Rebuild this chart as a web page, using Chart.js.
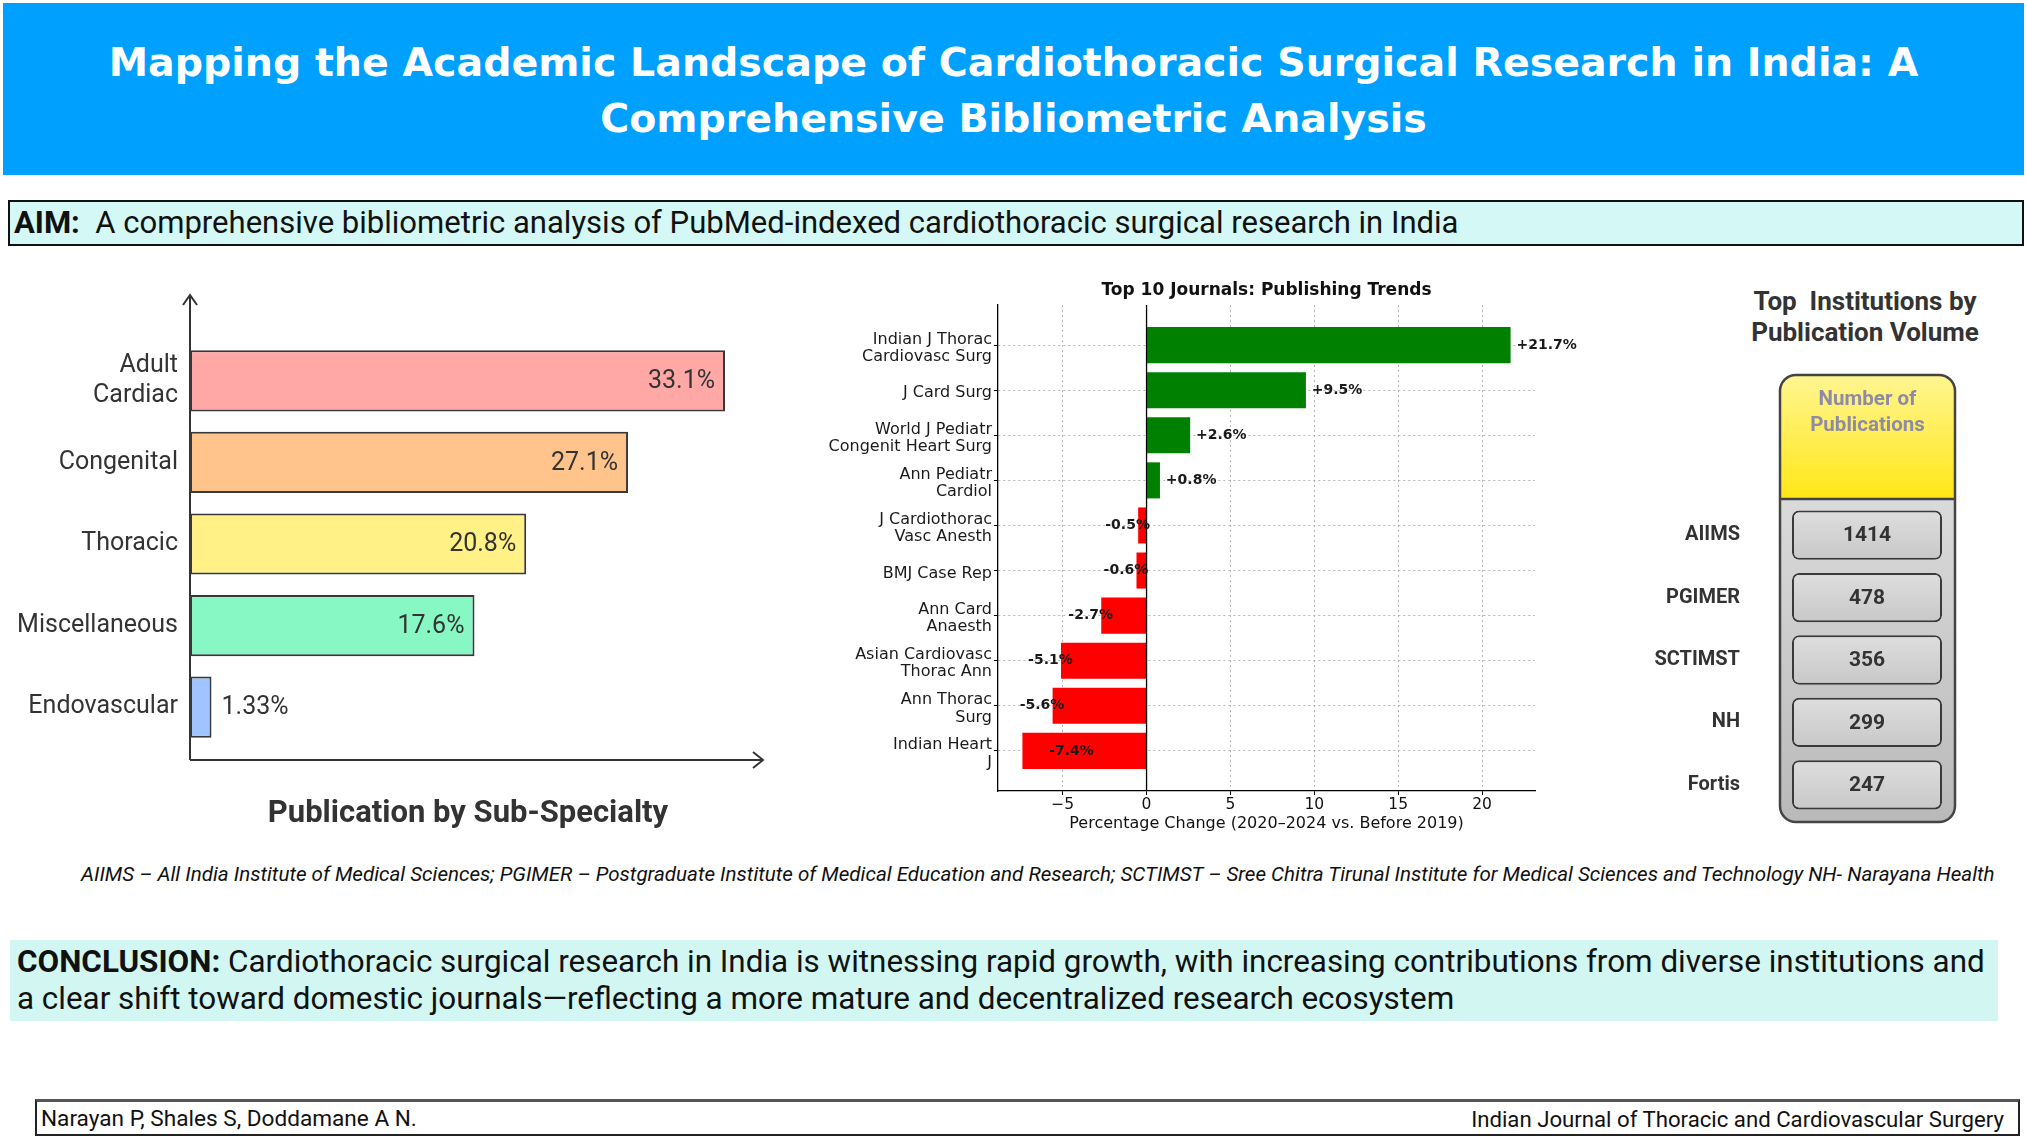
<!DOCTYPE html>
<html>
<head>
<meta charset="utf-8">
<title>Cardiothoracic Surgical Research in India</title>
<script src="https://cdn.jsdelivr.net/npm/chart.js@4.4.1/dist/chart.umd.min.js"></script>
<style>
  * { box-sizing: border-box; }
  html, body { margin: 0; padding: 0; background: #fff; }
  #page { position: relative; width: 2027px; height: 1136px; overflow: hidden; font-family: Roboto, sans-serif; color: #111; }
  .abs { position: absolute; }
  .fit { white-space: nowrap; display: inline-block; }
  #header { left: 3px; top: 3px; width: 2021px; height: 172px; background: #00a1fe; }
  #header .line { position: absolute; left: 0; width: 100%; text-align: center; color: #fff;
    font-family: "DejaVu Sans", sans-serif; font-weight: bold; font-size: 38px; line-height: 56px; }
  #aim { left: 8px; top: 200px; width: 2016px; height: 46px; background: #d3f8f5; border: 2px solid #111;
    padding-left: 4px; font-size: 30px; line-height: 42px; }
  #foot-note { left: 81px; top: 860px; font-size: 19px; font-style: italic; line-height: 28px; color: #111; }
  #conclusion { left: 10px; top: 940px; width: 1988px; height: 81px; background: #d2f7f3; padding: 3px 0 0 7px;
    font-size: 30px; line-height: 37px; }
  #footer { left: 35px; top: 1099px; width: 1985px; height: 37px; border: 2px solid #222; border-top: 3px solid #555; background: #fff; }
  #footer span { position: absolute; top: 4px; font-size: 21px; line-height: 26px; }
  #sub-title { left: 218px; top: 793px; width: 500px; text-align: center; font-weight: bold; font-size: 31px; color: #333; }
  #inst-title { left: 1680px; top: 286px; width: 370px; text-align: center; font-weight: bold; font-size: 26px; line-height: 31px; color: #333; }
  canvas { position: absolute; }
</style>
</head>
<body>
<div id="page">
  <div id="header" class="abs">
    <div class="line" style="top:31px"><span id="t1" class="fit">Mapping the Academic Landscape of Cardiothoracic Surgical Research in India: A</span></div>
    <div class="line" style="top:87px"><span id="t2" class="fit">Comprehensive Bibliometric Analysis</span></div>
  </div>

  <div id="aim" class="abs"><span id="aim-text" class="fit"><b>AIM:</b>&nbsp; A comprehensive bibliometric analysis of PubMed-indexed cardiothoracic surgical research in India</span></div>

  <canvas id="subChart" width="800" height="580" style="left:0;top:270px"></canvas>
  <div id="sub-title" class="abs">Publication by Sub-Specialty</div>

  <canvas id="journalChart" width="790" height="570" style="left:800px;top:270px"></canvas>

  <div id="inst-title" class="abs">Top&nbsp; Institutions by<br>Publication Volume</div>
  <canvas id="instChart" width="427" height="570" style="left:1600px;top:270px"></canvas>

  <div id="foot-note" class="abs"><span id="note-text" class="fit">AIIMS – All India Institute of Medical Sciences; PGIMER – Postgraduate Institute of Medical Education and Research; SCTIMST – Sree Chitra Tirunal Institute for Medical Sciences and Technology NH- Narayana Health</span></div>

  <div id="conclusion" class="abs">
    <span id="c1" class="fit"><b>CONCLUSION:</b> Cardiothoracic surgical research in India is witnessing rapid growth, with increasing contributions from diverse institutions and</span><br>
    <span id="c2" class="fit">a clear shift toward domestic journals—reflecting a more mature and decentralized research ecosystem</span>
  </div>

  <div id="footer" class="abs">
    <span id="auth" class="fit" style="left:4px">Narayan P, Shales S, Doddamane A N.</span>
    <span id="jour" class="fit" style="right:14px">Indian Journal of Thoracic and Cardiovascular Surgery</span>
  </div>
</div>

<script>
// ---- data ----
var subSpecialties = [["Adult", "Cardiac"], "Congenital", "Thoracic", "Miscellaneous", "Endovascular"];
var subShares = [33.1, 27.1, 20.8, 17.6, 1.33];

var journals = [
  ["Indian J Thorac", "Cardiovasc Surg"],
  "J Card Surg",
  ["World J Pediatr", "Congenit Heart Surg"],
  ["Ann Pediatr", "Cardiol"],
  ["J Cardiothorac", "Vasc Anesth"],
  "BMJ Case Rep",
  ["Ann Card", "Anaesth"],
  ["Asian Cardiovasc", "Thorac Ann"],
  ["Ann Thorac", "Surg"],
  ["Indian Heart", "J"]
];
var journalChange = [21.7, 9.5, 2.6, 0.8, -0.5, -0.6, -2.7, -5.1, -5.6, -7.4];
var changeTicks = [-5, 0, 5, 10, 15, 20];

var institutions = ["AIIMS", "PGIMER", "SCTIMST", "NH", "Fortis"];
var publications = [1414, 478, 356, 299, 247];

// ---- text fitting (match line widths of the poster) ----
function fitWidth(id, target) {
  var el = document.getElementById(id);
  var fs = parseFloat(getComputedStyle(el).fontSize);
  var w = el.getBoundingClientRect().width;
  el.style.fontSize = (fs * target / w) + "px";
  return fs * target / w;
}
var tSize = fitWidth("t1", 1810);
document.getElementById("t2").style.fontSize = tSize + "px";
fitWidth("aim-text", 1445);
var cSize = fitWidth("c1", 1968);
document.getElementById("c2").style.fontSize = cSize + "px";
fitWidth("note-text", 1915);
fitWidth("auth", 376);
fitWidth("jour", 533);

// ---- chart 1: publication by sub-specialty ----
var subPalette = ["#ffa8a5", "#ffc48c", "#fff186", "#87f8c4", "#a0c4ff"];

var arrowAxes = {
  id: "arrowAxes",
  beforeDatasetsDraw: function (chart) {
    var ctx = chart.ctx, a = chart.chartArea;
    var x0 = a.left, y0 = a.bottom + 12, top = a.top - 45;
    ctx.save();
    ctx.strokeStyle = "#333";
    ctx.lineWidth = 2;
    ctx.beginPath();
    ctx.moveTo(x0, y0); ctx.lineTo(x0, top);
    ctx.moveTo(x0, y0); ctx.lineTo(a.right, y0);
    ctx.moveTo(x0 - 7, top + 10); ctx.lineTo(x0, top); ctx.lineTo(x0 + 7, top + 10);
    ctx.moveTo(a.right - 10, y0 - 8); ctx.lineTo(a.right, y0); ctx.lineTo(a.right - 10, y0 + 8);
    ctx.stroke();
    ctx.restore();
  },
  afterDatasetsDraw: function (chart) {
    var ctx = chart.ctx;
    ctx.save();
    ctx.font = "25px Roboto";
    ctx.fillStyle = "#333";
    ctx.textBaseline = "middle";
    chart.getDatasetMeta(0).data.forEach(function (bar, i) {
      var txt = subShares[i] + "%";
      if (bar.x - bar.base > 90) {
        ctx.textAlign = "right";
        ctx.fillText(txt, bar.x - 10, bar.y + 1);
      } else {
        ctx.textAlign = "left";
        ctx.fillText(txt, bar.x + 10, bar.y + 1);
      }
    });
    ctx.restore();
  }
};

new Chart(document.getElementById("subChart"), {
  type: "bar",
  data: {
    labels: subSpecialties,
    datasets: [{
      data: subShares,
      backgroundColor: subPalette,
      borderColor: "#383838",
      borderWidth: 2,
      borderSkipped: false,
      barPercentage: 0.75,
      categoryPercentage: 1
    }]
  },
  options: {
    indexAxis: "y",
    responsive: false,
    animation: false,
    layout: { padding: { top: 70, bottom: 102, right: 37, left: 0 } },
    plugins: { legend: { display: false }, tooltip: { enabled: false } },
    scales: {
      x: { display: false, min: 0, max: 35.45 },
      y: {
        afterFit: function (s) { s.width = 190; },
        grid: { display: false, drawTicks: false },
        border: { display: false },
        ticks: { color: "#333", padding: 12, font: { family: "Roboto", size: 25, lineHeight: 1.2 } }
      }
    }
  },
  plugins: [arrowAxes]
});

// ---- chart 2: top 10 journals ----
var journalExtras = {
  id: "journalExtras",
  afterDatasetsDraw: function (chart) {
    var ctx = chart.ctx, a = chart.chartArea, xs = chart.scales.x;
    var x0 = xs.getPixelForValue(0);
    ctx.save();
    ctx.strokeStyle = "#000";
    ctx.lineWidth = 1.3;
    ctx.beginPath();
    ctx.moveTo(x0, a.top); ctx.lineTo(x0, a.bottom);
    ctx.stroke();
    ctx.restore();
  },
  afterDraw: function (chart) {
    var ctx = chart.ctx, a = chart.chartArea, xs = chart.scales.x;
    ctx.save();
    ctx.fillStyle = "#111";
    ctx.textBaseline = "middle";
    ctx.textAlign = "center";
    ctx.font = "bold 17px 'DejaVu Sans'";
    ctx.fillText("Top 10 Journals: Publishing Trends", (a.left + a.right) / 2, a.top - 14);
    ctx.font = "bold 14px 'DejaVu Sans'";
    ctx.fillStyle = "#1a1a1a";
    chart.getDatasetMeta(0).data.forEach(function (bar, i) {
      var v = journalChange[i];
      var txt = (v > 0 ? "+" : "") + v.toFixed(1) + "%";
      if (v >= 0) {
        ctx.textAlign = "left";
        ctx.fillText(txt, xs.getPixelForValue(v + 0.35), bar.y);
      } else {
        var xr = xs.getPixelForValue(v + 0.7);
        if (xr - ctx.measureText(txt).width < a.left) {
          ctx.textAlign = "left";
          ctx.fillText(txt, xs.getPixelForValue(v + 1.6), bar.y);
        } else {
          ctx.textAlign = "right";
          ctx.fillText(txt, xr, bar.y);
        }
      }
    });
    ctx.restore();
  }
};

// Chart.js v4 takes the grid-line dash from the border options
var dottedGrid = {
  color: "rgba(170,170,170,0.85)",
  offset: false,
  tickColor: "#000",
  tickLength: 4,
  tickBorderDash: []
};
var spine = { color: "#000", width: 1.3, dash: [2, 3] };

new Chart(document.getElementById("journalChart"), {
  type: "bar",
  data: {
    datasets: [{
      data: journalChange.map(function (v, i) { return { x: v, y: i }; }),
      backgroundColor: journalChange.map(function (v) { return v >= 0 ? "#008000" : "#ff0000"; }),
      borderWidth: 0,
      barPercentage: 0.8,
      categoryPercentage: 1
    }]
  },
  options: {
    indexAxis: "y",
    responsive: false,
    animation: false,
    layout: { padding: { top: 35, right: 55, left: 0, bottom: 0 } },
    plugins: { legend: { display: false }, tooltip: { enabled: false } },
    scales: {
      x: {
        type: "linear",
        min: -8.855,
        max: 23.155,
        offset: false,
        z: 1,
        afterBuildTicks: function (s) { s.ticks = changeTicks.map(function (v) { return { value: v }; }); },
        afterFit: function (s) { s.height = 49; },
        ticks: {
          color: "#111",
          padding: 1,
          maxRotation: 0,
          font: { family: "DejaVu Sans", size: 15.5 },
          callback: function (v) { return v < 0 ? "\u2212" + Math.abs(v) : String(v); }
        },
        grid: dottedGrid,
        border: spine,
        title: {
          display: true,
          text: "Percentage Change (2020\u20132024 vs. Before 2019)",
          color: "#111",
          font: { family: "DejaVu Sans", size: 16 },
          padding: { top: 0, bottom: 7 }
        }
      },
      y: {
        type: "linear",
        reverse: true,
        min: -0.89,
        max: 9.89,
        offset: false,
        z: 1,
        afterBuildTicks: function (s) { s.ticks = journals.map(function (_, i) { return { value: i }; }); },
        afterFit: function (s) { s.width = 198; },
        ticks: {
          color: "#1a1a1a",
          padding: 2,
          labelOffset: 3,
          font: { family: "DejaVu Sans", size: 16, lineHeight: 1.07 },
          callback: function (v) { return journals[v]; }
        },
        grid: dottedGrid,
        border: spine
      }
    }
  },
  plugins: [journalExtras]
});

// ---- chart 3: top institutions ----
var instPanel = {
  id: "instPanel",
  beforeDatasetsDraw: function (chart) {
    var ctx = chart.ctx, a = chart.chartArea;
    var L = a.left - 12, R = a.right + 13, T = 105, B = a.bottom + 6, H = a.top - 5, r = 16;
    ctx.save();
    function box() {
      ctx.beginPath();
      ctx.roundRect(L, T, R - L, B - T, r);
    }
    var g = ctx.createLinearGradient(0, H, 0, B);
    g.addColorStop(0, "#dadada");
    g.addColorStop(1, "#b9b9b9");
    box(); ctx.fillStyle = g; ctx.fill();
    ctx.save();
    box(); ctx.clip();
    var yg = ctx.createLinearGradient(0, T, 0, H);
    yg.addColorStop(0, "#fff591");
    yg.addColorStop(1, "#ffe716");
    ctx.fillStyle = yg;
    ctx.fillRect(L, T, R - L, H - T);
    ctx.restore();
    ctx.strokeStyle = "#444";
    ctx.lineWidth = 2.5;
    box(); ctx.stroke();
    ctx.beginPath(); ctx.moveTo(L, H); ctx.lineTo(R, H); ctx.stroke();
    ctx.fillStyle = "#8d8ba8";
    ctx.font = "bold 20.5px Roboto";
    ctx.textAlign = "center";
    ctx.textBaseline = "middle";
    ctx.fillText("Number of", (L + R) / 2, 130);
    ctx.fillText("Publications", (L + R) / 2, 156);
    ctx.restore();
  },
  afterDatasetsDraw: function (chart) {
    var ctx = chart.ctx;
    ctx.save();
    ctx.fillStyle = "#333";
    ctx.font = "bold 21px Roboto";
    ctx.textAlign = "center";
    ctx.textBaseline = "middle";
    chart.getDatasetMeta(0).data.forEach(function (bar, i) {
      ctx.fillText(String(publications[i]), (bar.x + bar.base) / 2, bar.y + 1);
    });
    ctx.restore();
  }
};

new Chart(document.getElementById("instChart"), {
  type: "bar",
  data: {
    labels: institutions,
    datasets: [{
      // every institution gets a full-width cell; the count is printed in it
      data: publications.map(function () { return [0, 1]; }),
      backgroundColor: function (c) {
        var ys = c.chart.scales.y;
        var y = ys && typeof c.dataIndex === "number" ? ys.getPixelForValue(c.dataIndex) : NaN;
        if (!isFinite(y)) return "#d2d2d2";
        var g = c.chart.ctx.createLinearGradient(0, y - 25, 0, y + 25);
        g.addColorStop(0, "#dedede");
        g.addColorStop(1, "#c8c8c8");
        return g;
      },
      borderColor: "#3a3a3a",
      borderWidth: 2,
      borderRadius: 7,
      borderSkipped: false,
      barPercentage: 0.79,
      categoryPercentage: 1
    }]
  },
  options: {
    indexAxis: "y",
    responsive: false,
    animation: false,
    layout: { padding: { top: 234, bottom: 24, right: 85, left: 0 } },
    plugins: { legend: { display: false }, tooltip: { enabled: false } },
    scales: {
      x: { display: false, min: 0, max: 1 },
      y: {
        afterFit: function (s) { s.width = 192; s.paddingTop = 0; s.paddingBottom = 0; },
        grid: { display: false, drawTicks: false },
        border: { display: false },
        ticks: { color: "#333", padding: 52, font: { family: "Roboto", size: 20, weight: "bold" } }
      }
    }
  },
  plugins: [instPanel]
});
</script>
</body>
</html>
